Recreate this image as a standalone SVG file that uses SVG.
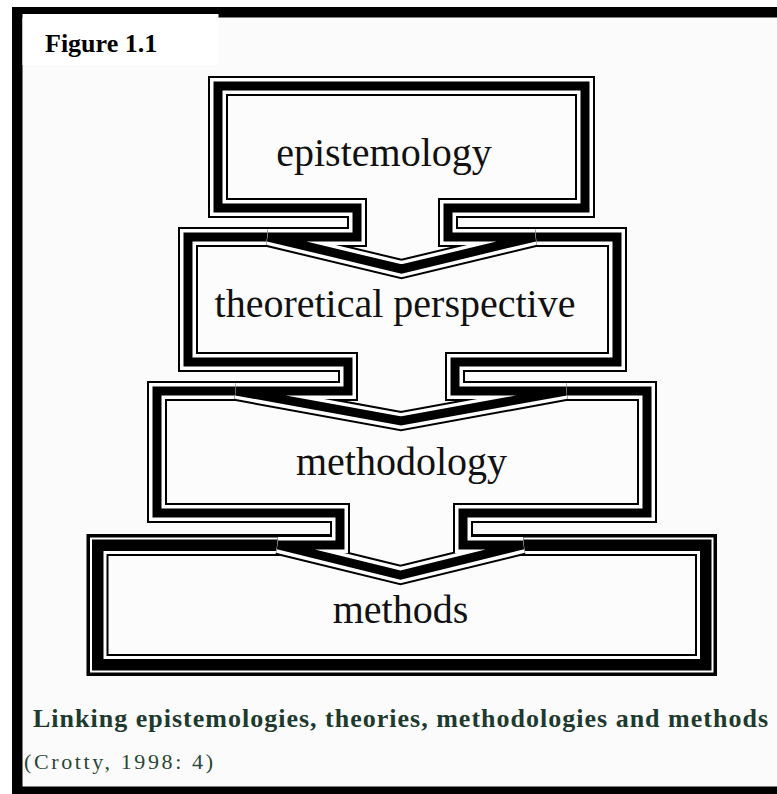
<svg xmlns="http://www.w3.org/2000/svg" width="777" height="794" viewBox="0 0 777 794">
  <style>
    .fill { fill: #fcfcfc; stroke: none; }
    .s1 { fill: none; stroke: #000; stroke-width: 20; stroke-linejoin: miter; }
    .s2 { fill: none; stroke: #fff; stroke-width: 16; stroke-linejoin: miter; }
    .s3 { fill: none; stroke: #000; stroke-width: 9; stroke-linejoin: miter; }
    .label { font-family: "Liberation Serif", "Times New Roman", serif; font-size: 40px; fill: #111; text-anchor: middle; }
    .fig { font-family: "Liberation Serif", "Times New Roman", serif; font-size: 26px; font-weight: bold; fill: #000; }
    .cap { font-family: "Liberation Serif", "Times New Roman", serif; font-size: 26px; font-weight: bold; fill: #1e3a2e; }
    .cite { font-family: "Liberation Serif", "Times New Roman", serif; font-size: 22px; fill: #2a4638; }
  </style>
  <defs>
    <path id="p1" d="M218,86 H585 V208 H448 V237 H535 L401.5,269 L268,237 H357 V208 H218 Z"/>
    <path id="p2" d="M188,237 H617 V362 H455 V391 H566 L401,421 L236,391 H348 V362 H188 Z"/>
    <path id="p3" d="M157,391 H647 V513 H463 V545 H523 L400.5,575 L278,545 H340 V513 H157 Z"/>
  </defs>

  <!-- frame -->
  <rect x="0" y="0" width="777" height="794" fill="#fff"/>
  <rect x="22" y="17" width="755" height="770" fill="#fbfbfb"/>
  <rect x="12" y="7" width="765" height="10.5" fill="#000"/>
  <rect x="12" y="7" width="10.5" height="787" fill="#000"/>
  <rect x="12" y="786.5" width="765" height="7.5" fill="#000"/>
  <rect x="22.5" y="14" width="196" height="51" fill="#fff"/>
  <text class="fig" x="45" y="52">Figure 1.1</text>

  <!-- methods (bottom) -->
  <g id="methods">
    <rect x="97.5" y="545" width="608.5" height="120" fill="#fcfcfc" stroke="#000" stroke-width="22"/>
    <rect x="91" y="538.5" width="621.5" height="133" fill="none" stroke="#fff" stroke-width="2"/>
    <rect x="105" y="552.5" width="593.5" height="105" fill="none" stroke="#fff" stroke-width="3"/>
    <text class="label" x="400.5" y="623">methods</text>
  </g>

  <g id="methodology">
    <use href="#p3" class="fill"/>
    <use href="#p3" class="s1"/>
    <use href="#p3" class="s2"/>
    <use href="#p3" class="s3"/>
    <text class="label" x="401.5" y="475">methodology</text>
  </g>

  <g id="theoretical-perspective">
    <use href="#p2" class="fill"/>
    <use href="#p2" class="s1"/>
    <use href="#p2" class="s2"/>
    <use href="#p2" class="s3"/>
    <text class="label" x="395" y="317">theoretical perspective</text>
  </g>

  <g id="epistemology">
    <use href="#p1" class="fill"/>
    <use href="#p1" class="s1"/>
    <use href="#p1" class="s2"/>
    <use href="#p1" class="s3"/>
    <text class="label" x="384" y="166">epistemology</text>
  </g>

  <g id="connectors"></g>

  <text class="cap" x="33" y="727" textLength="735" lengthAdjust="spacing">Linking epistemologies, theories, methodologies and methods</text>
  <text class="cite" x="24" y="769" textLength="189" lengthAdjust="spacing">(Crotty, 1998: 4)</text>
</svg>
